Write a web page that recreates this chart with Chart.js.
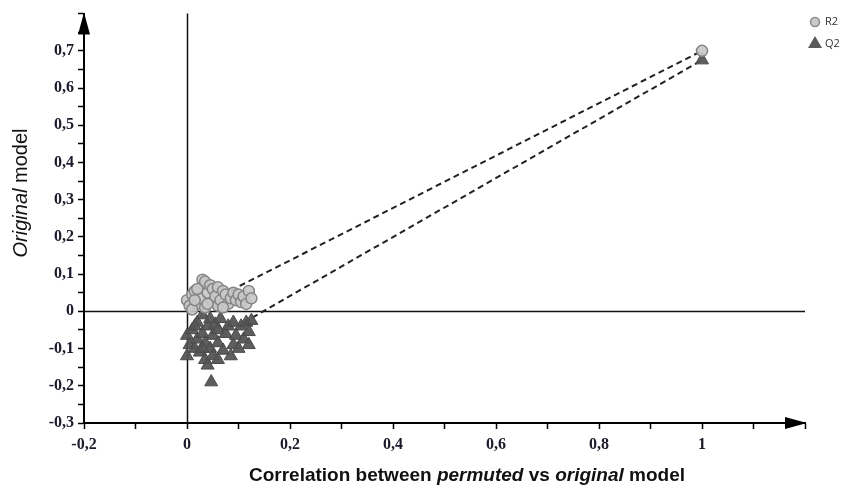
<!DOCTYPE html>
<html>
<head>
<meta charset="utf-8">
<script src="https://cdn.jsdelivr.net/npm/chart.js@4"></script>
<style>
  body { margin: 0; background: #fff; }
  #wrap { width: 848px; height: 492px; }
</style>
</head>
<body>
<div id="wrap"><canvas id="permChart"></canvas></div>
<script>
// permutation test: R2 and Q2 of permuted models vs correlation with original
const r2Points = [
  [0.000, 0.030], [0.005, 0.015], [0.010, 0.045], [0.015, 0.055], [0.020, 0.020],
  [0.025, 0.035], [0.030, 0.085], [0.035, 0.080], [0.035, 0.010], [0.040, 0.050],
  [0.045, 0.070], [0.050, 0.025], [0.050, 0.060], [0.055, 0.040], [0.060, 0.065],
  [0.060, 0.015], [0.065, 0.030], [0.070, 0.055], [0.075, 0.045], [0.080, 0.020],
  [0.085, 0.035], [0.090, 0.050], [0.095, 0.030], [0.100, 0.045], [0.105, 0.025],
  [0.110, 0.040], [0.115, 0.020], [0.120, 0.055], [0.125, 0.035], [0.010, 0.005],
  [0.020, 0.060], [0.040, 0.020], [0.070, 0.010], [0.015, 0.030], [1.000, 0.700]
];
const q2Points = [
  [0.000, -0.120], [0.000, -0.065], [0.005, -0.090], [0.010, -0.050], [0.015, -0.100],
  [0.020, -0.030], [0.020, -0.075], [0.025, -0.110], [0.030, -0.010], [0.030, -0.060],
  [0.035, -0.130], [0.035, -0.085], [0.040, -0.040], [0.040, -0.145], [0.045, -0.020],
  [0.045, -0.100], [0.050, -0.065], [0.050, -0.120], [0.055, -0.035], [0.060, -0.085],
  [0.060, -0.050], [0.065, -0.020], [0.070, -0.105], [0.075, -0.060], [0.080, -0.040],
  [0.085, -0.120], [0.090, -0.030], [0.090, -0.090], [0.095, -0.065], [0.100, -0.100],
  [0.105, -0.040], [0.110, -0.075], [0.115, -0.030], [0.120, -0.055], [0.125, -0.025],
  [0.120, -0.090], [0.047, -0.190], [0.015, -0.040], [0.030, -0.100], [0.060, -0.130],
  [1.000, 0.675]
];
const r2Line = [[0.085, 0.056], [1.0, 0.700]];
const q2Line = [[0.110, -0.030], [1.0, 0.675]];
const xRange = [-0.2, 1.2];
const yRange = [-0.3, 0.8];
const xLabelMax = 1.0;
const yLabelMax = 0.7;

const toXY = arr => arr.map(p => ({ x: p[0], y: p[1] }));
const fmt = v => {
  const r = Math.round(v * 100) / 100;
  return (Math.abs(r) < 1e-9 ? '0' : String(r)).replace('.', ',');
};

const axisFont = { family: 'Liberation Serif', size: 16, weight: 'bold' };

// axes lines, arrows, titles and legend
const decor = {
  id: 'decor',
  beforeDatasetsDraw(chart) {
    const { ctx, chartArea: a, scales: { x, y } } = chart;
    ctx.save();
    ctx.strokeStyle = '#111';
    ctx.lineWidth = 1.5;
    const x0 = Math.round(x.getPixelForValue(0)) + 0.5;
    const y0 = Math.round(y.getPixelForValue(0)) + 0.5;
    ctx.beginPath();
    ctx.moveTo(x0, a.bottom); ctx.lineTo(x0, a.top);
    ctx.moveTo(a.left, y0); ctx.lineTo(a.right, y0);
    ctx.stroke();
    ctx.restore();
  },
  afterDraw(chart) {
    const { ctx, chartArea: a } = chart;
    ctx.save();
    ctx.fillStyle = '#000';
    // y arrow
    ctx.beginPath();
    ctx.moveTo(a.left, a.top - 1);
    ctx.lineTo(a.left - 6, a.top + 21);
    ctx.lineTo(a.left + 6, a.top + 21);
    ctx.closePath(); ctx.fill();
    // x arrow
    ctx.beginPath();
    ctx.moveTo(a.right + 2, a.bottom);
    ctx.lineTo(a.right - 20, a.bottom - 6);
    ctx.lineTo(a.right - 20, a.bottom + 6);
    ctx.closePath(); ctx.fill();

    // titles with italic words
    const drawParts = (parts, cx, cy, base) => {
      const fonts = parts.map(p => (p[1] ? 'italic ' : '') + base);
      let w = 0;
      const widths = parts.map((p, i) => { ctx.font = fonts[i]; const m = ctx.measureText(p[0]).width; w += m; return m; });
      let cur = cx - w / 2;
      ctx.textBaseline = 'alphabetic';
      ctx.textAlign = 'left';
      parts.forEach((p, i) => { ctx.font = fonts[i]; ctx.fillText(p[0], cur, cy); cur += widths[i]; });
    };
    ctx.fillStyle = '#111';
    drawParts([['Correlation between ', false], ['permuted', true], [' vs ', false], ['original', true], [' model', false]],
      467, 481, 'bold 19px "Liberation Sans"');
    ctx.save();
    ctx.translate(27, 193);
    ctx.rotate(-Math.PI / 2);
    drawParts([['Original', true], [' model', false]], 0, 0, '20px "Liberation Sans"');
    ctx.restore();

    // legend
    ctx.font = '11px "Open Sans"';
    ctx.textBaseline = 'middle';
    ctx.fillStyle = '#c9c9c9';
    ctx.strokeStyle = '#8a8a8a';
    ctx.lineWidth = 1.5;
    ctx.beginPath(); ctx.arc(815, 22, 4.5, 0, Math.PI * 2); ctx.fill(); ctx.stroke();
    ctx.fillStyle = '#5a5a5a';
    ctx.beginPath();
    ctx.moveTo(815, 36); ctx.lineTo(822, 48); ctx.lineTo(808, 48);
    ctx.closePath(); ctx.fill();
    ctx.fillStyle = '#333';
    ctx.fillText('R2', 825, 22);
    ctx.fillText('Q2', 825, 44);
    ctx.restore();
  }
};

new Chart(document.getElementById('permChart'), {
  type: 'scatter',
  data: {
    datasets: [
      {
        label: 'R2 trend',
        data: toXY(r2Line),
        showLine: true,
        borderColor: '#222',
        borderWidth: 2,
        borderDash: [6, 4],
        pointRadius: 0,
        order: 3
      },
      {
        label: 'Q2 trend',
        data: toXY(q2Line),
        showLine: true,
        borderColor: '#222',
        borderWidth: 2,
        borderDash: [6, 4],
        pointRadius: 0,
        order: 3
      },
      {
        label: 'Q2',
        data: toXY(q2Points),
        pointStyle: 'triangle',
        pointRadius: 7.5,
        backgroundColor: 'rgba(85,85,85,0.95)',
        borderColor: '#4a4a4a',
        borderWidth: 1,
        order: 2
      },
      {
        label: 'R2',
        data: toXY(r2Points),
        pointStyle: 'circle',
        pointRadius: 5.5,
        backgroundColor: 'rgba(200,200,200,0.9)',
        borderColor: '#858585',
        borderWidth: 1.5,
        order: 1
      }
    ]
  },
  plugins: [decor],
  options: {
    responsive: true,
    maintainAspectRatio: false,
    animation: false,
    layout: { padding: { top: 12, right: 43, left: 0, bottom: 0 } },
    plugins: {
      legend: { display: false },
      tooltip: { enabled: false }
    },
    scales: {
      x: {
        type: 'linear',
        min: xRange[0],
        max: xRange[1],
        afterFit: s => { s.height = 69; },
        afterBuildTicks: s => {
          s.ticks = [];
          for (let v = -2; v <= 12; v++) s.ticks.push({ value: v / 10 });
        },
        border: { display: true, color: '#000', width: 2 },
        grid: { drawOnChartArea: false, tickLength: 6, tickColor: '#000', tickWidth: 1.5 },
        ticks: {
          font: axisFont,
          color: '#1a1a2a',
          maxRotation: 0,
          autoSkip: false,
          padding: 6,
          callback: v => (Math.round(v * 10) % 2 === 0 && v <= xLabelMax + 1e-9) ? fmt(v) : ''
        }
      },
      y: {
        type: 'linear',
        min: yRange[0],
        max: yRange[1],
        afterFit: s => { s.width = 84; },
        afterBuildTicks: s => {
          s.ticks = [];
          for (let v = -6; v <= 16; v++) s.ticks.push({ value: v / 20 });
        },
        border: { display: true, color: '#000', width: 2 },
        grid: { drawOnChartArea: false, tickLength: 6, tickColor: '#000', tickWidth: 1.5 },
        ticks: {
          font: axisFont,
          color: '#1a1a2a',
          autoSkip: false,
          padding: 4,
          callback: v => (Math.round(v * 20) % 2 === 0 && v <= yLabelMax + 1e-9) ? fmt(v) : ''
        }
      }
    }
  }
});
</script>
</body>
</html>
